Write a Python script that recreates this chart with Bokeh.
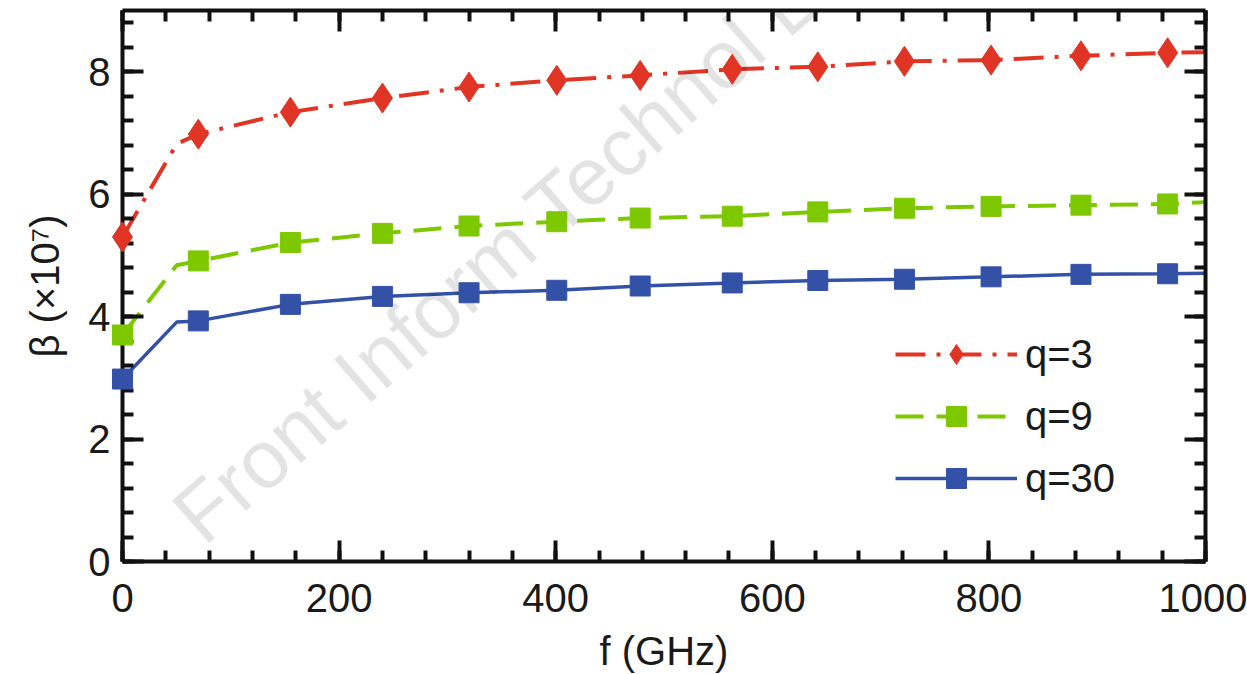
from bokeh.plotting import figure
from bokeh.models import Range1d, LinearAxis, SingleIntervalTicker, Legend, LegendItem, ColumnDataSource
from bokeh.core.properties import value
from bokeh.embed import file_html
from bokeh.resources import INLINE

# ---- data ----
f_markers = [0, 70, 155, 240, 320, 401, 478, 563, 642, 722, 802, 885, 965]
beta_q3_markers = [5.30, 6.98, 7.34, 7.57, 7.75, 7.86, 7.94, 8.04, 8.08, 8.17, 8.19, 8.26, 8.31]
beta_q9_markers = [3.70, 4.91, 5.21, 5.36, 5.48, 5.55, 5.61, 5.64, 5.71, 5.77, 5.80, 5.82, 5.84]
beta_q30_markers = [2.98, 3.93, 4.20, 4.33, 4.39, 4.43, 4.50, 4.55, 4.59, 4.61, 4.65, 4.69, 4.70]

f_curve = [0, 50, 70, 155, 240, 320, 401, 478, 563, 642, 722, 802, 885, 965, 1000]
beta_q3_curve = [5.30, 6.82, 6.98, 7.34, 7.57, 7.75, 7.86, 7.94, 8.04, 8.08, 8.17, 8.19, 8.26, 8.31, 8.32]
beta_q9_curve = [3.70, 4.84, 4.91, 5.21, 5.36, 5.48, 5.55, 5.61, 5.64, 5.71, 5.77, 5.80, 5.82, 5.84, 5.87]
beta_q30_curve = [2.98, 3.91, 3.93, 4.20, 4.33, 4.39, 4.43, 4.50, 4.55, 4.59, 4.61, 4.65, 4.69, 4.70, 4.71]

labels = ["q=3", "q=9", "q=30"]
colors = ["#E03424", "#7DC800", "#3451A8"]

x_ticks_interval = 200
y_ticks_interval = 2

watermark = "Front Inform Technol Elec Eng"

FONT = "Liberation Sans"
TXT = "#1a1a1a"

p = figure(frame_width=1083, frame_height=551,
           x_range=Range1d(0, 1000), y_range=Range1d(0, 9),
           output_backend="svg", toolbar_location=None,
           min_border_left=122, min_border_right=42,
           min_border_top=10, min_border_bottom=113)
p.outline_line_color = None
p.grid.visible = False
p.background_fill_color = "white"
p.border_fill_color = "white"

def style_axis(ax, show_labels):
    ax.axis_line_width = 4
    ax.axis_line_color = "#111111"
    ax.major_tick_line_width = 4
    ax.minor_tick_line_width = 4
    ax.major_tick_line_color = "#111111"
    ax.minor_tick_line_color = "#111111"
    ax.major_tick_in = 21
    ax.major_tick_out = 0
    ax.minor_tick_in = 11
    ax.minor_tick_out = 0
    if show_labels:
        ax.major_label_text_font = FONT
        ax.major_label_text_font_size = "40px"
        ax.major_label_text_color = TXT
        ax.axis_label_text_font = FONT
        ax.axis_label_text_font_size = "40px"
        ax.axis_label_text_font_style = "normal"
        ax.axis_label_text_color = TXT
    else:
        ax.major_label_text_font_size = "0px"
        ax.major_label_standoff = 0

xt = SingleIntervalTicker(interval=x_ticks_interval, num_minor_ticks=5)
yt = SingleIntervalTicker(interval=y_ticks_interval, num_minor_ticks=5)

xa = p.xaxis[0]
xa.ticker = xt
xa.axis_label = "f (GHz)"
style_axis(xa, True)
xa.major_label_standoff = 22
xa.axis_label_standoff = 14

ya = p.yaxis[0]
ya.ticker = yt
ya.axis_label = "β (×10⁷)"
style_axis(ya, True)
ya.major_label_standoff = 12
ya.axis_label_standoff = 18

top = LinearAxis(ticker=SingleIntervalTicker(interval=x_ticks_interval, num_minor_ticks=5))
style_axis(top, False)
p.add_layout(top, "above")
right = LinearAxis(ticker=SingleIntervalTicker(interval=y_ticks_interval, num_minor_ticks=5))
style_axis(right, False)
p.add_layout(right, "right")

curves = [beta_q3_curve, beta_q9_curve, beta_q30_curve]
marks = [beta_q3_markers, beta_q9_markers, beta_q30_markers]
dashes = ["30 11 4 11", "28 13", "solid"]
widths = [4, 4, 3.5]
markers = ["diamond", "square", "square"]
msizes = [30, 20, 20]

items = []
for lab, col, cv, mk, dsh, lw, mt, ms in zip(labels, colors, curves, marks, dashes, widths, markers, msizes):
    lr = p.line(f_curve, cv, line_color=col, line_width=lw, line_dash=dsh)
    src = ColumnDataSource(dict(f=f_markers, b=mk))
    sr = p.scatter("f", "b", source=src, marker=mt, size=ms, fill_color=col, line_color=col, line_width=1)
    sr.level = "overlay"
    items.append(LegendItem(label=lab, renderers=[lr, sr]))

# watermark
p.text(x=[58], y=[0.58], text=[watermark], angle=41, angle_units="deg",
       text_font=value(FONT), text_font_size="82px", text_color="#000000", text_alpha=0.11,
       text_baseline="alphabetic", text_align="left")

legend = Legend(items=items, location=(773, 58), orientation="vertical",
                glyph_width=122, glyph_height=50, spacing=12, padding=0, margin=0,
                label_standoff=8, label_text_font=FONT, label_text_font_size="40px",
                label_text_font_style="normal", label_text_color=TXT,
                background_fill_alpha=0, border_line_color=None)
p.add_layout(legend, "center")

open("out.html", "w").write(file_html(p, INLINE))
